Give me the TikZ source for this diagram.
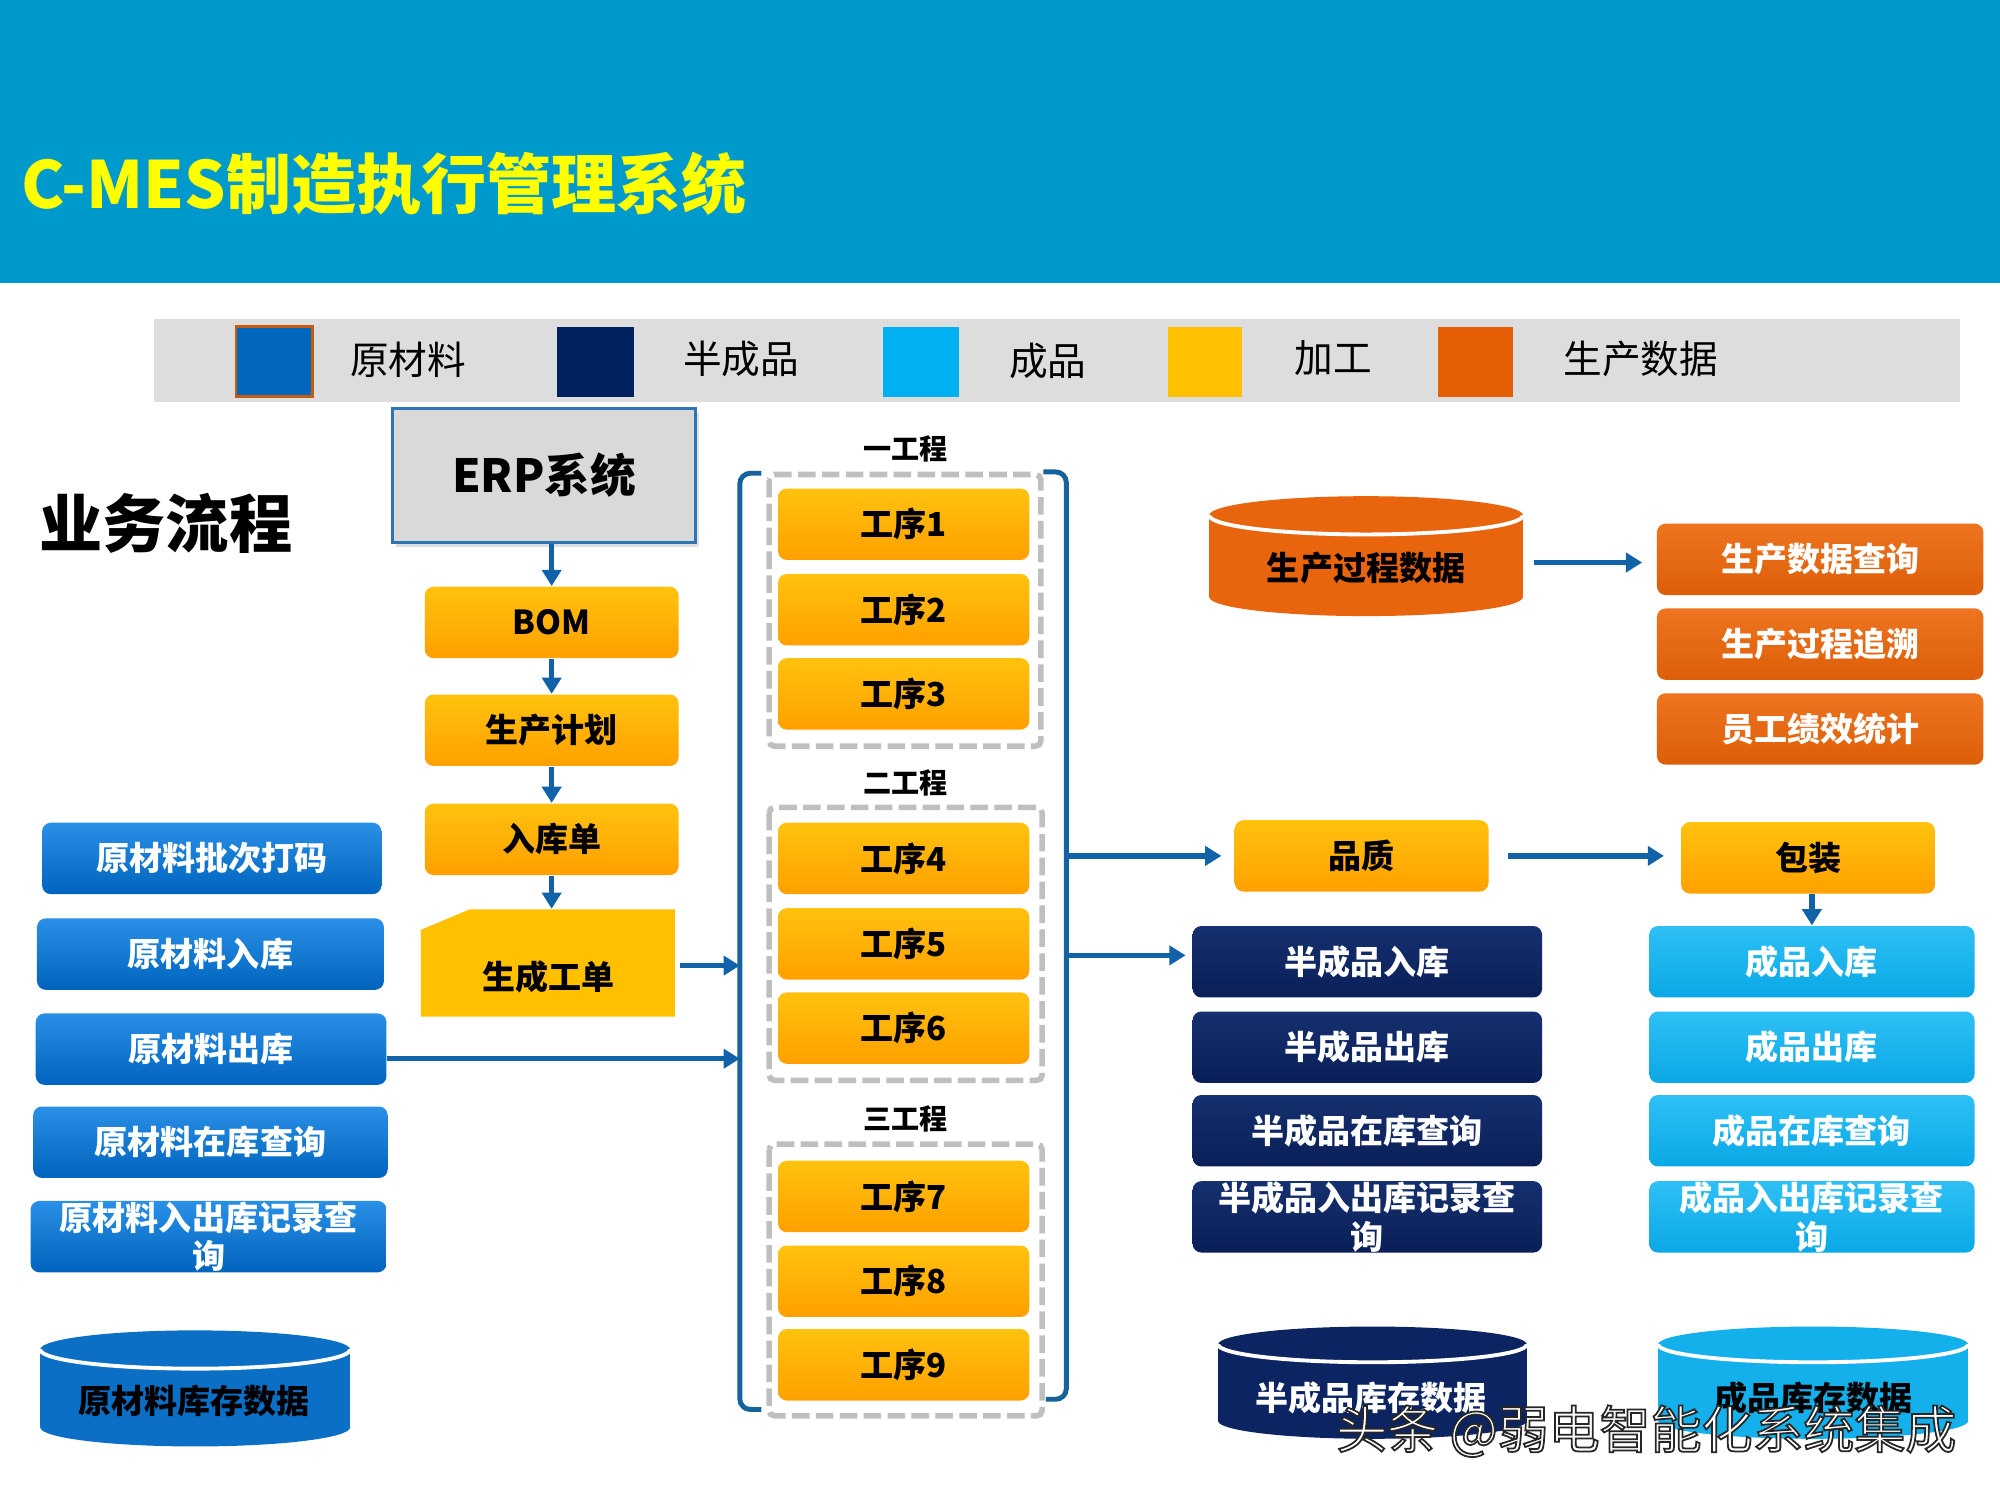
\documentclass[tikz,border=0pt]{standalone}
\usepackage{fontspec}
\setmainfont{Noto Sans CJK SC}
\usetikzlibrary{arrows.meta,shadows}
\def\pxu{0.012755cm}
\definecolor{hdr}{HTML}{0099CC}
\definecolor{ttl}{HTML}{FFFF00}
\definecolor{lgbg}{HTML}{DDDDDD}
\definecolor{sw1}{HTML}{0068BC}
\definecolor{sw1b}{HTML}{C55A11}
\definecolor{sw2}{HTML}{002060}
\definecolor{sw3}{HTML}{00B0F0}
\definecolor{sw4}{HTML}{FFC000}
\definecolor{sw5}{HTML}{E65F06}
\definecolor{arrc}{HTML}{1262AA}
\definecolor{brkc}{HTML}{16639C}
\definecolor{erpb}{HTML}{2E75B6}
\definecolor{erpf}{HTML}{D9D9D9}
\definecolor{dashc}{HTML}{BFBFBF}
\definecolor{oT}{HTML}{FFC20E}
\definecolor{oB}{HTML}{FFA000}
\definecolor{bT}{HTML}{2A8FE6}
\definecolor{bB}{HTML}{0064BE}
\definecolor{nT}{HTML}{15306F}
\definecolor{nB}{HTML}{0A1F58}
\definecolor{lT}{HTML}{2EC0F5}
\definecolor{lB}{HTML}{0AA8E6}
\definecolor{rT}{HTML}{EE7420}
\definecolor{rB}{HTML}{DD5E08}
\definecolor{gdc}{HTML}{FFC000}
\definecolor{cyB}{HTML}{0B6FC6}
\definecolor{cyO}{HTML}{E8650E}
\definecolor{cyN}{HTML}{0D2462}
\definecolor{cyL}{HTML}{14B0EC}
\newcommand\mycyl[6]{%
  \fill[#6] (#1-#2,#3) rectangle (#1+#2,#4);
  \fill[#6] (#1,#4) ellipse ({#2} and {#5});
  \fill[#6] (#1,#3) ellipse ({#2} and {#5});
  \begin{scope}
    \clip (#1-#2-10,#3) rectangle (#1+#2+10,#3+#5+10);
    \draw[white,line width=1.1pt] (#1,#3) ellipse ({#2} and {#5});
  \end{scope}
}
\tikzset{
  box/.style={rounded corners=2.5pt, minimum height=56*\pxu, inner sep=0pt, align=center,
    font=\bfseries\fontsize{9.4}{11}\selectfont},
  obox/.style={box, top color=oT, bottom color=oB, text=black, minimum width=199*\pxu},
  bbox/.style={box, top color=bT, bottom color=bB, text=white},
  nbox/.style={box, top color=nT, bottom color=nB, text=white, minimum width=274*\pxu},
  lbox/.style={box, top color=lT, bottom color=lB, text=white, minimum width=255*\pxu},
  rbox/.style={box, top color=rT, bottom color=rB, text=white, minimum width=256*\pxu},
  arr/.style={draw=arrc, line width=1.5pt, -{Triangle[length=4.6pt,width=5.4pt]}},
  brk/.style={draw=brkc, line width=1.4pt, rounded corners=3pt},
  grp/.style={draw=dashc, line width=1.6pt, dash pattern=on 5pt off 1.8pt, rounded corners=1.5pt},
  glbl/.style={font=\bfseries\fontsize{8}{9}\selectfont},
  lgtxt/.style={font=\fontsize{11}{13}\selectfont},
  cyltxt/.style={font=\bfseries\fontsize{9.4}{11}\selectfont, inner sep=0pt},
}
\begin{document}
\begin{tikzpicture}[x=\pxu, y=-\pxu]
\useasboundingbox (0,0) rectangle (1568,1176);
\fill[white] (0,0) rectangle (1568,1176);
% header
\fill[hdr] (0,0) rectangle (1568,222);
\node[anchor=west, text=ttl, inner sep=0pt, font=\bfseries\fontsize{18.5}{21}\selectfont] (title) at (16,144) {C-MES制造执行管理系统};
% legend
\fill[lgbg] (121,250) rectangle (1537,315);
\draw[fill=sw1, draw=sw1b, line width=0.8pt] (185,256) rectangle (245,311);
\fill[sw2] (437,256) rectangle (497,311);
\fill[sw3] (692,256) rectangle (752,311);
\fill[sw4] (916,256) rectangle (974,311);
\fill[sw5] (1127,256) rectangle (1186,311);
\node[lgtxt] (lg1) at (320,282) {原材料};
\node[lgtxt] (lg2) at (581,281) {半成品};
\node[lgtxt] (lg3) at (821.5,283) {成品};
\node[lgtxt] (lg4) at (1045.5,281) {加工};
\node[lgtxt] (lg5) at (1286.5,281) {生产数据};
% section title
\node[font=\bfseries\fontsize{18}{20}\selectfont] (biz) at (130,410) {业务流程};
% ERP and chain
\node[draw=erpb, line width=0.8pt, fill=erpf, minimum width=237*\pxu, minimum height=105*\pxu,
  font=\bfseries\fontsize{13}{15}\selectfont,
  drop shadow={opacity=0.25, shadow xshift=1pt, shadow yshift=-1.5pt}] (erp) at (426.5,372.5) {ERP系统};
\node[obox] (bom) at (432.5,488) {BOM};
\node[obox] (plan) at (432.5,572.5) {生产计划};
\node[obox] (rkd) at (432.5,658) {入库单};
\fill[gdc] (330,729) -- (368,713) -- (529,713) -- (529,797) -- (330,797) -- cycle;
\node[minimum width=199*\pxu, minimum height=84*\pxu, inner sep=0pt] (gd) at (429.5,755) {};
\node[cyltxt] (gdt) at (430,766) {生成工单};
\draw[arr] (bom.north |- erp.south) -- (bom.north);
\draw[arr] (bom.south) -- (plan.north);
\draw[arr] (plan.south) -- (rkd.north);
\draw[arr] (rkd.south) -- (rkd.south |- gd.north);
% raw material boxes
\node[bbox, minimum width=266*\pxu] (rm1) at (166,673) {原材料批次打码};
\node[bbox, minimum width=272*\pxu] (rm2) at (165,748) {原材料入库};
\node[bbox, minimum width=275*\pxu] (rm3) at (165.5,822.5) {原材料出库};
\node[bbox, minimum width=278*\pxu] (rm4) at (165,895.5) {原材料在库查询};
\node[bbox, minimum width=279*\pxu] (rm5) at (163.5,969.5) {原材料入出库记录查\\询};
% brackets
\coordinate (bkL1) at (580,757);
\coordinate (bkL2) at (580,830);
\coordinate (bkR1) at (836,671);
\coordinate (bkR2) at (836,749);
\draw[brk] (597,371) -- (580,371) -- (580,1105) -- (597,1105);
\draw[brk] (818,370) -- (836,370) -- (836,1097) -- (820,1097);
% groups
\node[glbl] (g1) at (710,352) {一工程};
\node[glbl] (g2) at (710,614) {二工程};
\node[glbl] (g3) at (710,877) {三工程};
\draw[grp] (603,372) rectangle (816,585);
\draw[grp] (603,633) rectangle (817,847);
\draw[grp] (603,897) rectangle (817,1110);
\node[obox, minimum width=197*\pxu] (p1) at (708.5,411) {工序1};
\node[obox, minimum width=197*\pxu] (p2) at (708.5,478) {工序2};
\node[obox, minimum width=197*\pxu] (p3) at (708.5,544) {工序3};
\node[obox, minimum width=197*\pxu] (p4) at (708.5,673) {工序4};
\node[obox, minimum width=197*\pxu] (p5) at (708.5,740) {工序5};
\node[obox, minimum width=197*\pxu] (p6) at (708.5,806) {工序6};
\node[obox, minimum width=197*\pxu] (p7) at (708.5,938) {工序7};
\node[obox, minimum width=197*\pxu] (p8) at (708.5,1004.5) {工序8};
\node[obox, minimum width=197*\pxu] (p9) at (708.5,1070) {工序9};
\draw[arr, shorten <=1.4pt] (gd.east |- bkL1) -- (bkL1);
\draw[arr] (rm3.east |- bkL2) -- (bkL2);
% quality / packing
\node[obox] (qc) at (1067.5,671) {品质};
\node[obox] (pk) at (1417.5,672.5) {包装};
% semi-finished
\node[nbox] (sp1) at (1072,754) {半成品入库};
\node[nbox] (sp2) at (1072,821) {半成品出库};
\node[nbox] (sp3) at (1072,886.5) {半成品在库查询};
\node[nbox] (sp4) at (1072,954) {半成品入出库记录查\\询};
% finished
\node[lbox] (fp1) at (1420.5,754) {成品入库};
\node[lbox] (fp2) at (1420.5,821) {成品出库};
\node[lbox] (fp3) at (1420.5,886.5) {成品在库查询};
\node[lbox] (fp4) at (1420.5,954) {成品入出库记录查\\询};
% production data
\node[rbox] (pq1) at (1427,438.5) {生产数据查询};
\node[rbox] (pq2) at (1427,505) {生产过程追溯};
\node[rbox] (pq3) at (1427,571.5) {员工绩效统计};
% arrows right side
\draw[arr, shorten >=3.6pt] (bkR1) -- (qc.west);
\draw[arr, shorten >=1.8pt] (bkR2) -- (bkR2 -| sp1.west);
\draw[arr, shorten <=5.4pt, shorten >=4.7pt] (qc.east) -- (qc.east -| pk.west);
\draw[arr] (pk.south -| fp1.north) -- (fp1.north);
% cylinders
\mycyl{153}{121.5}{1058}{1119}{15}{cyB}
\mycyl{1071}{123}{404}{468}{15}{cyO}
\mycyl{1076}{121}{1054}{1114}{14}{cyN}
\mycyl{1421.5}{121.5}{1054}{1114}{14}{cyL}
\node[cyltxt, text=black] (cs1) at (152,1098) {原材料库存数据};
\node[cyltxt, text=black, minimum width=246*\pxu] (cpd) at (1071,445) {生产过程数据};
\node[cyltxt, text=white] (cs2) at (1075,1096) {半成品库存数据};
\node[cyltxt, text=black] (cs3) at (1422,1096) {成品库存数据};
\coordinate (cpdR) at (1203,441);
\draw[arr, shorten >=4pt] (cpdR) -- (cpdR -| pq1.west);
% watermark
\node[anchor=west, inner sep=0pt, text=white, font=\fontsize{14.5}{16}\selectfont] (wm) at (1047,1122)
  {\special{pdf:literal direct 2 Tr 0.5 w 0.15 0.15 0.15 RG}头条 @弱电智能化系统集成\special{pdf:literal direct 0 Tr}};
\end{tikzpicture}
\end{document}
